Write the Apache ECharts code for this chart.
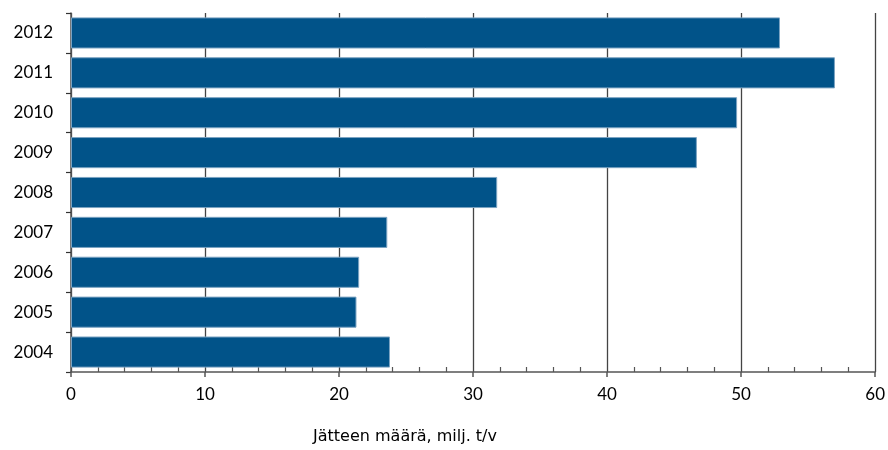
<!DOCTYPE html>
<html>
<head>
<meta charset="utf-8">
<script src="https://cdn.jsdelivr.net/npm/echarts@6/dist/echarts.min.js"></script>
<style>
html,body{margin:0;padding:0;background:#fff;}
#chart{width:888px;height:450px;}
</style>
</head>
<body>
<div id="chart"></div>
<script>
// Waste amounts per year, million tonnes per year
const years = ['2004', '2005', '2006', '2007', '2008', '2009', '2010', '2011', '2012'];
const wasteAmounts = [23.8, 21.3, 21.5, 23.6, 31.8, 46.7, 49.7, 57.0, 52.9];
const axisTitle = 'Jätteen määrä, milj. t/v';

const FONT = 'Lato, "DejaVu Sans", sans-serif';
const chart = echarts.init(document.getElementById('chart'), null, { renderer: 'canvas' });

chart.setOption({
  animation: false,
  backgroundColor: '#ffffff',
  grid: { left: 71, right: 10, top: 13, bottom: 78, containLabel: false },
  xAxis: {
    type: 'value',
    min: 0,
    max: 60,
    interval: 10,
    axisLine: { show: true, lineStyle: { color: '#555', width: 1.5 } },
    axisTick: { show: true, length: 5, lineStyle: { color: '#555', width: 1.5 } },
    minorTick: { show: true, splitNumber: 5, length: -5, lineStyle: { color: '#555', width: 1.2 } },
    splitLine: { show: true, lineStyle: { color: '#444', width: 1.3 } },
    axisLabel: { color: '#000', fontFamily: FONT, fontSize: 17, margin: 14 }
  },
  yAxis: {
    type: 'category',
    data: years,
    axisLine: { show: true, lineStyle: { color: '#555', width: 1.5 } },
    axisTick: { show: true, length: 5, lineStyle: { color: '#333', width: 1.2 } },
    axisLabel: { color: '#000', fontFamily: FONT, fontSize: 17, margin: 18 },
    splitLine: { show: false }
  },
  series: [{
    type: 'bar',
    data: wasteAmounts,
    barCategoryGap: '22%',
    itemStyle: { color: '#015389', borderColor: '#7ba3c2', borderWidth: 1 }
  }],
  graphic: [{
    type: 'text',
    left: 313,
    top: 429,
    style: { text: axisTitle, fill: '#000', font: '16px "DejaVu Sans", sans-serif' }
  }]
});
</script>
</body>
</html>
